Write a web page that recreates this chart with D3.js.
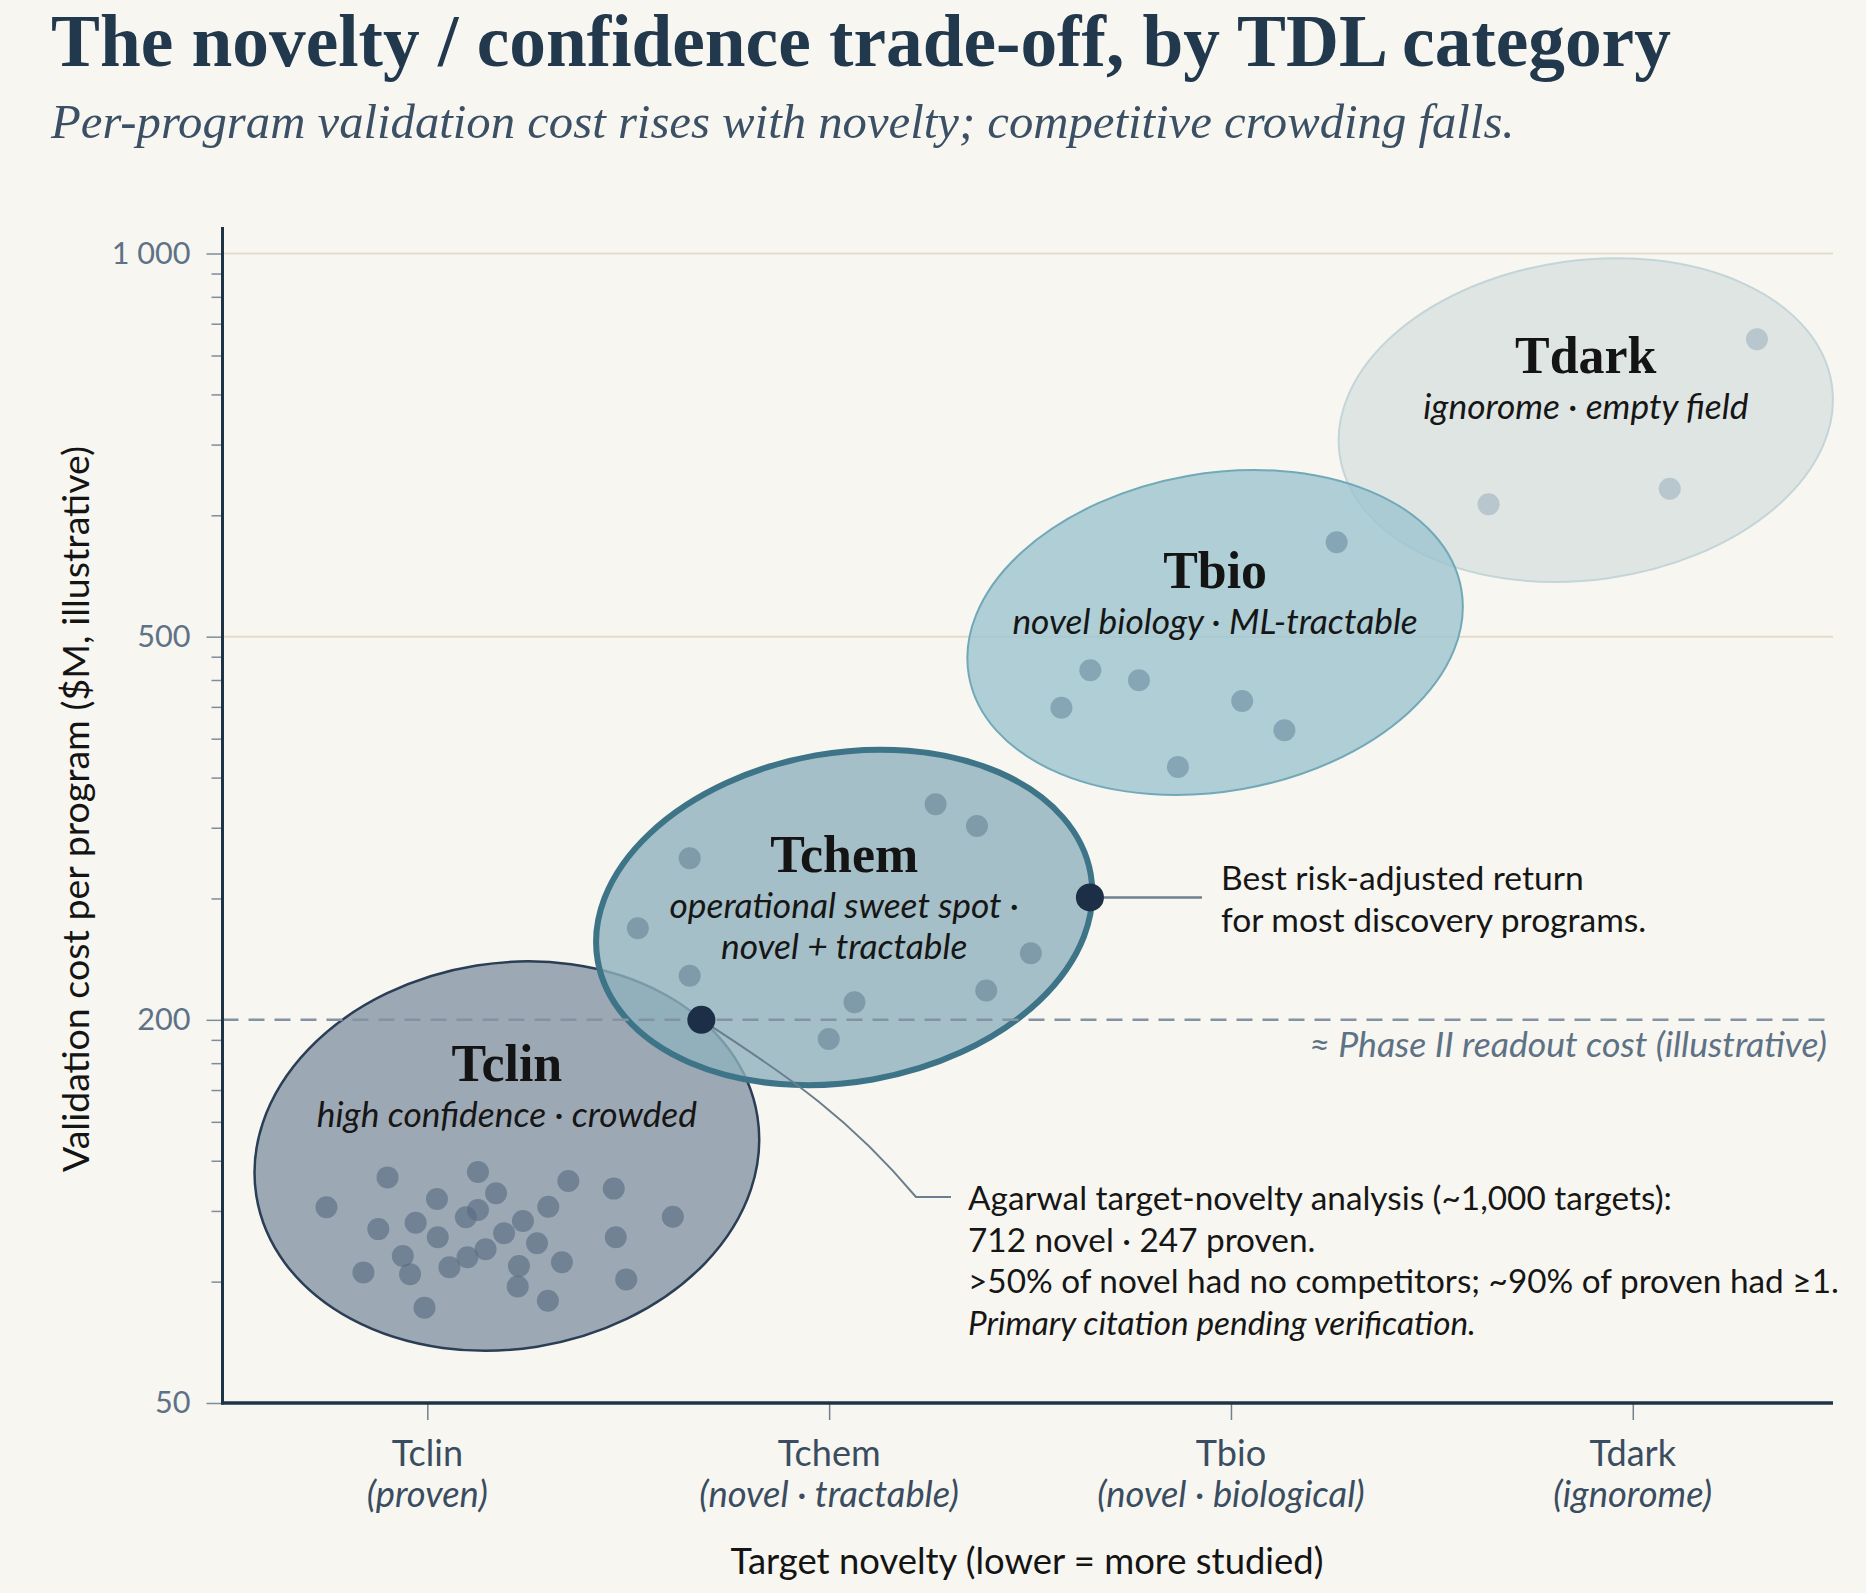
<!DOCTYPE html>
<html>
<head>
<meta charset="utf-8">
<script src="https://cdn.jsdelivr.net/npm/d3@7"></script>
<style>
  html, body { margin: 0; padding: 0; background: #f8f6f0; }
  svg { display: block; }
</style>
</head>
<body>
<svg id="chart" width="1866" height="1593"></svg>
<script>
// ---------------- DATA ----------------
const categories = ["Tclin", "Tchem", "Tbio", "Tdark"];
const categoryNotes = ["(proven)", "(novel · tractable)", "(novel · biological)", "(ignorome)"];
const clusterBlurbs = [
  ["high confidence · crowded"],
  ["operational sweet spot ·", "novel + tractable"],
  ["novel biology · ML-tractable"],
  ["ignorome · empty field"]
];
const yTickValues = [50, 200, 500, 1000];
const yTickLabels = ["50", "200", "500", "1 000"];

// cloud extents: novelty index range and cost range ($M)
const clusterNoveltyRange = [[-0.43, 0.826], [0.42, 1.655], [1.344, 2.577], [2.268, 3.498]];
const clusterCostRange = [[60.4, 230], [157.9, 381.6], [342.5, 675.9], [552, 991.5]];

// individual programs
const tclinNovelty = [-0.251, -0.099, -0.122, -0.159, -0.029, -0.061, -0.043, -0.007, 0.024, 0.026,
  0.055, 0.096, 0.100, 0.126, 0.126, 0.171, 0.145, 0.191, 0.238, 0.228,
  0.225, 0.273, 0.301, 0.300, 0.335, 0.351, 0.464, 0.469, 0.495, 0.611];
const tclinCost = [101.5, 113.1, 93.8, 80.2, 96.0, 85.1, 79.7, 70.6, 104.6, 91.1,
  81.7, 97.9, 84.7, 115.3, 100.5, 106.8, 87.2, 92.4, 96.6, 82.1,
  76.2, 89.1, 101.7, 72.4, 83.2, 111.6, 108.6, 91.1, 78.2, 98.1];
const tchemNovelty = [1.265, 1.368, 0.653, 0.524, 1.502, 0.653, 1.391, 1.063, 0.999];
const tchemCost = [334.9, 318.0, 294.4, 249.0, 234.5, 222.2, 214.5, 208.6, 186.6];
const tbioNovelty = [2.263, 1.650, 1.771, 1.578, 2.028, 2.133, 1.868];
const tbioCost = [593.1, 461.4, 450.5, 421.9, 428.8, 399.8, 366.2];
const tdarkNovelty = [3.309, 3.092, 2.641];
const tdarkCost = [856.2, 653.5, 635.3];

const phaseIICost = 200;
const sweetSpotPoint = { novelty: 1.649, cost: 268 };
const boundaryPoint = { novelty: 0.682, cost: 200 };
const sweetSpotText = ["Best risk-adjusted return", "for most discovery programs."];
const agarwalText = [
  "Agarwal target-novelty analysis (~1,000 targets):",
  "712 novel · 247 proven.",
  ">50% of novel had no competitors; ~90% of proven had \u22651.",
  "Primary citation pending verification."
];

// ---------------- LAYOUT / STYLE ----------------
const SERIF = "'Liberation Serif', 'DejaVu Serif', serif";
const SANS = "Lato, 'Noto Sans', sans-serif";
const plot = { left: 222.5, right: 1833, top: 253.5, bottom: 1403 };

const styles = [
  { fill: "#7d8ca0", fo: 0.74, stroke: "#2a3e56", sw: 2.5, dot: "#566a81", dotO: 0.62, rot: -9, titleDy: -75.5 },
  { fill: "#8fb2bd", fo: 0.80, stroke: "#3d7487", sw: 6,   dot: "#6d8a9b", dotO: 0.68, rot: -10, titleDy: -45.5 },
  { fill: "#9cc4cf", fo: 0.80, stroke: "#72a9b8", sw: 2,   dot: "#7696a7", dotO: 0.70, rot: -10, titleDy: -44.5 },
  { fill: "#d4dedd", fo: 0.70, stroke: "#c3d5d9", sw: 2,   dot: "#b3c3ca", dotO: 0.9,  rot: -8,  titleDy: -47.5 }
];

const pointSets = [
  { nov: tclinNovelty, cost: tclinCost },
  { nov: tchemNovelty, cost: tchemCost },
  { nov: tbioNovelty, cost: tbioCost },
  { nov: tdarkNovelty, cost: tdarkCost }
];

const svg = d3.select("#chart");
svg.append("rect").attr("width", 1866).attr("height", 1593).attr("fill", "#f8f6f0");

const x = d3.scaleLinear().domain([-0.5, 3.5]).range([226.4, 1833.7]);
const y = d3.scaleLog()
  .domain(yTickValues)
  .range(yTickValues.map((d, i) => plot.bottom - i * (plot.bottom - plot.top) / (yTickValues.length - 1)));

function fitGroup(nodes, target) {
  let sum = 0;
  nodes.forEach(n => sum += n.getComputedTextLength());
  const fs = parseFloat(nodes[0].getAttribute("font-size"));
  const nfs = fs * target / sum;
  nodes.forEach(n => n.setAttribute("font-size", nfs.toFixed(2)));
  return nfs;
}

// ---------------- TITLES ----------------
const title = svg.append("text").attr("x", 51).attr("y", 66)
  .attr("font-family", SERIF).attr("font-weight", 700).attr("font-size", 60)
  .attr("fill", "#22384d").text("The novelty / confidence trade-off, by TDL category");
fitGroup([title.node()], 1620);

const subtitle = svg.append("text").attr("x", 51).attr("y", 138)
  .attr("font-family", SERIF).attr("font-style", "italic").attr("font-size", 40)
  .attr("fill", "#3b5064").text("Per-program validation cost rises with novelty; competitive crowding falls.");
fitGroup([subtitle.node()], 1464);

// ---------------- GRID ----------------
const g = svg.append("g");
g.selectAll("line.grid").data([500, 1000]).join("line")
  .attr("x1", plot.left).attr("x2", plot.right)
  .attr("y1", d => y(d)).attr("y2", d => y(d))
  .attr("stroke", "#e4dccb").attr("stroke-width", 2);

// ---------------- ELLIPSES ----------------
const order = [3, 2, 0, 1];
const ellG = g.append("g");
order.forEach(i => {
  const st = styles[i];
  const x0 = x(clusterNoveltyRange[i][0]), x1 = x(clusterNoveltyRange[i][1]);
  const yT = y(clusterCostRange[i][1]), yB = y(clusterCostRange[i][0]);
  const cx = (x0 + x1) / 2, cy = (yT + yB) / 2;
  const Wh = (x1 - x0) / 2, Hh = (yB - yT) / 2;
  const th = st.rot * Math.PI / 180;
  const c2 = Math.cos(th) ** 2, s2 = Math.sin(th) ** 2;
  const a = Math.sqrt((Wh * Wh * c2 - Hh * Hh * s2) / (c2 - s2));
  const b = Math.sqrt((Hh * Hh * c2 - Wh * Wh * s2) / (c2 - s2));
  ellG.append("ellipse")
    .attr("cx", cx).attr("cy", cy).attr("rx", a).attr("ry", b)
    .attr("transform", `rotate(${st.rot},${cx},${cy})`)
    .attr("fill", st.fill).attr("fill-opacity", st.fo)
    .attr("stroke", st.stroke).attr("stroke-width", st.sw);
});

// ---------------- PHASE II LINE ----------------
g.append("line")
  .attr("x1", plot.left).attr("x2", plot.right)
  .attr("y1", y(phaseIICost)).attr("y2", y(phaseIICost))
  .attr("stroke", "#8393a3").attr("stroke-width", 2.5).attr("stroke-dasharray", "16 10");
const phaseLabel = g.append("text").attr("x", 1827).attr("y", y(phaseIICost) + 37)
  .attr("text-anchor", "end").attr("font-family", SANS).attr("font-style", "italic")
  .attr("font-size", 28).attr("fill", "#5e7286").text("\u2248 Phase II readout cost (illustrative)");
fitGroup([phaseLabel.node()], 518);

// ---------------- DOTS ----------------
pointSets.forEach((ps, i) => {
  const st = styles[i];
  g.append("g").selectAll("circle").data(ps.nov.map((n, k) => [n, ps.cost[k]])).join("circle")
    .attr("cx", d => x(d[0])).attr("cy", d => y(d[1])).attr("r", 11)
    .attr("fill", st.dot).attr("fill-opacity", st.dotO);
});

// ---------------- CLUSTER LABELS ----------------
const titleNodes = [], blurbNodes = [];
categories.forEach((c, i) => {
  const st = styles[i];
  const x0 = x(clusterNoveltyRange[i][0]), x1 = x(clusterNoveltyRange[i][1]);
  const cx = (x0 + x1) / 2;
  const cy = (y(clusterCostRange[i][1]) + y(clusterCostRange[i][0])) / 2;
  const ty = cy + st.titleDy;
  const t = g.append("text").attr("x", cx).attr("y", ty).attr("text-anchor", "middle")
    .attr("font-family", SERIF).attr("font-weight", 700).attr("font-size", 44)
    .attr("fill", "#141414").text(c);
  titleNodes.push(t.node());
  clusterBlurbs[i].forEach((line, j) => {
    const b = g.append("text").attr("x", cx).attr("y", ty + 46 + j * 41).attr("text-anchor", "middle")
      .attr("font-family", SANS).attr("font-style", "italic").attr("font-size", 28)
      .attr("fill", "#161616").text(line);
    blurbNodes.push(b.node());
  });
});
fitGroup(titleNodes, 504);
fitGroup(blurbNodes, 1707);

// ---------------- ANNOTATIONS ----------------
const sx = x(sweetSpotPoint.novelty), sy = y(sweetSpotPoint.cost);
g.append("line").attr("x1", sx).attr("x2", 1202).attr("y1", sy).attr("y2", sy)
  .attr("stroke", "#6f8090").attr("stroke-width", 2.5);
g.append("circle").attr("cx", sx).attr("cy", sy).attr("r", 14).attr("fill", "#1c2f47");
const ssNodes = sweetSpotText.map((t, j) => g.append("text").attr("x", 1221).attr("y", 890 + j * 42)
  .attr("font-family", SANS).attr("font-size", 28).attr("fill", "#161616").text(t).node());
fitGroup(ssNodes, 788.6);

const bx = x(boundaryPoint.novelty), by = y(boundaryPoint.cost);
const tx = 968, tb = 1210;
g.append("path")
  .attr("d", `M${bx},${by} C${bx + 90},${by + 58} ${bx + 150},${by + 100} ${tx - 52},${tb - 13} L${tx - 17},${tb - 13}`)
  .attr("fill", "none").attr("stroke", "#6b7d8f").attr("stroke-width", 2);
g.append("circle").attr("cx", bx).attr("cy", by).attr("r", 14).attr("fill", "#1c2f47");
const agNodes = agarwalText.map((t, j) => g.append("text").attr("x", tx).attr("y", tb + j * 41.5)
  .attr("font-family", SANS).attr("font-size", 28)
  .attr("font-style", j === 3 ? "italic" : "normal")
  .attr("fill", "#161616").text(t).node());
const agSize = fitGroup(agNodes.slice(0, 3), 1922);
agNodes[3].setAttribute("font-size", agSize.toFixed(2));

// ---------------- AXES ----------------
// minor y ticks
const minor = [];
for (let i = 0; i < yTickValues.length - 1; i++) {
  const a = yTickValues[i], b = yTickValues[i + 1];
  for (let k = 2; k <= 8; k++) minor.push(a * Math.pow(b / a, Math.log(k) / Math.log(9)));
}
g.append("g").selectAll("line").data(minor).join("line")
  .attr("x1", plot.left - 11).attr("x2", plot.left)
  .attr("y1", d => y(d)).attr("y2", d => y(d))
  .attr("stroke", "#7d8d9c").attr("stroke-width", 1.5);

const yAxis = d3.axisLeft(y).tickValues(yTickValues).tickSize(16).tickPadding(16)
  .tickFormat((d, i) => yTickLabels[i]);
const yAx = g.append("g").attr("transform", `translate(${plot.left},0)`).call(yAxis);
yAx.select(".domain").remove();
yAx.selectAll(".tick line").attr("stroke", "#7d8d9c").attr("stroke-width", 1.5);
yAx.selectAll(".tick text").attr("font-family", SANS).attr("font-size", 28).attr("fill", "#5d7286");
fitGroup(yAx.selectAll(".tick text").nodes(), 221);

// x axis
const xAx = g.append("g").attr("transform", `translate(0,${plot.bottom})`)
  .call(d3.axisBottom(x).tickValues(d3.range(categories.length)).tickSize(17).tickFormat(""));
xAx.select(".domain").remove();
xAx.selectAll(".tick line").attr("stroke", "#6f8090").attr("stroke-width", 1.5);

const catNodes = [], noteNodes = [];
categories.forEach((c, i) => {
  catNodes.push(g.append("text").attr("x", x(i)).attr("y", 1466).attr("text-anchor", "middle")
    .attr("font-family", SANS).attr("font-size", 30).attr("fill", "#3a4d60").text(c).node());
  noteNodes.push(g.append("text").attr("x", x(i)).attr("y", 1507).attr("text-anchor", "middle")
    .attr("font-family", SANS).attr("font-style", "italic").attr("font-size", 28).attr("fill", "#3a4d60")
    .text(categoryNotes[i]).node());
});
fitGroup(catNodes, 331);
fitGroup(noteNodes, 807.6);

const xTitle = g.append("text").attr("x", 1027).attr("y", 1574).attr("text-anchor", "middle")
  .attr("font-family", SANS).attr("font-size", 30).attr("fill", "#141414")
  .text("Target novelty (lower = more studied)");
fitGroup([xTitle.node()], 593);

const yTitle = g.append("text")
  .attr("transform", "translate(74,809) rotate(-90)")
  .attr("text-anchor", "middle").attr("dominant-baseline", "central")
  .attr("font-family", SANS).attr("font-size", 30).attr("fill", "#141414")
  .text("Validation cost per program ($M, illustrative)");
fitGroup([yTitle.node()], 726);

// axis lines
g.append("line").attr("x1", plot.left).attr("x2", plot.left).attr("y1", 227).attr("y2", plot.bottom + 1.5)
  .attr("stroke", "#1f3347").attr("stroke-width", 3);
g.append("line").attr("x1", plot.left - 1.5).attr("x2", plot.right).attr("y1", plot.bottom).attr("y2", plot.bottom)
  .attr("stroke", "#1f3347").attr("stroke-width", 3.5);
</script>
</body>
</html>
